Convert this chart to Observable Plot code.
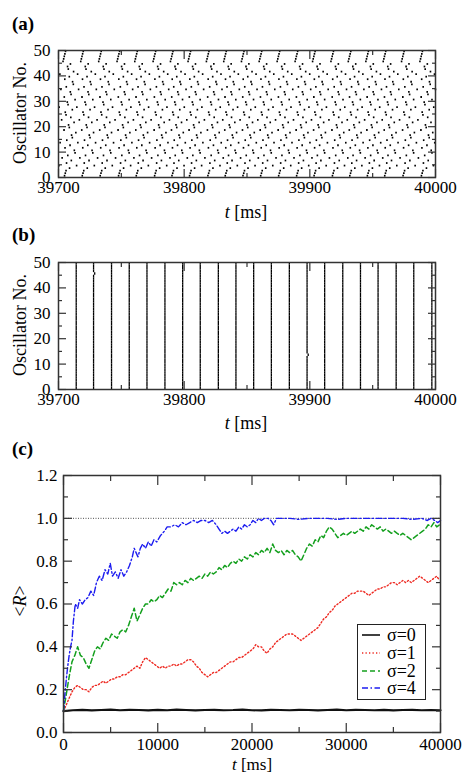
<!DOCTYPE html>
<html><head><meta charset="utf-8">
<script src="https://cdn.jsdelivr.net/npm/d3@7"></script>
<script src="https://cdn.jsdelivr.net/npm/@observablehq/plot@0.6"></script>
<style>
body{margin:0;background:#fff;}
#wrap{position:relative;width:464px;height:775px;font-family:"Liberation Serif","Times New Roman",serif;color:#000;overflow:hidden;background:#fff;}
.panel{position:absolute;left:0;}
.tag{position:absolute;left:12px;font-weight:bold;font-size:19px;line-height:1;}
.xt{position:absolute;font-size:18px;line-height:1;transform:translate(-50%,-50%);white-space:nowrap;}
.yt{position:absolute;font-size:18px;line-height:1;transform:translate(-50%,-50%) rotate(-90deg);white-space:nowrap;}
</style></head><body><div id="wrap"></div>
<script>
// ---------- data ----------
const oscillators = [1,2,3,4,5,6,7,8,9,10,11,12,13,14,15,16,17,18,19,20,21,22,23,24,25,26,27,28,29,30,31,32,33,34,35,36,37,38,39,40,41,42,43,44,45,46,47,48,49,50];
// panel (a): start of each firing cycle [ms] and each oscillator's phase within a cycle [ms] (osc 1..50)
const cycleA = [39689.9,39704.0,39718.1,39732.4,39747.0,39761.1,39775.7,39789.5,39803.5,39818.1,39831.9,39846.0,39860.1,39874.4,39888.7,39902.6,39917.2,39931.0,39945.0,39958.8,39973.4,39988.0];
const phaseA = [0.8,1.4,2.0,4.8,10.4,2.4,6.2,13.0,3.4,9.2,8.6,1.2,5.2,11.4,2.6,7.0,6.4,9.8,0.4,4.6,4.0,8.4,12.6,5.8,2.0,1.4,7.0,10.6,3.6,3.0,9.2,0.6,6.0,5.4,12.0,2.2,7.8,7.2,1.0,4.6,11.2,8.0,3.8,3.2,5.5,-0.4,0.1,0.6,1.1,1.6];
// panel (b): synchronous firing times [ms]
const syncB = [39714.1,39727.9,39742.2,39756.3,39770.4,39784.7,39798.8,39812.8,39827.2,39841.2,39855.3,39869.4,39883.7,39897.8,39911.8,39926.2,39940.3,39954.3,39968.7,39982.7,39997.1];
const lateCycleB = [1, 13];
const lateOscB = [46, 14];
const lateDelayB = [0.9, 0.9];
// panel (c)
const sigmaLabels = ["σ=0","σ=1","σ=2","σ=4"];
const tS0 = [0,1000,2000,3000,4000,5000,6000,7000,8000,9000,10000,11000,12000,13000,14000,15000,16000,17000,18000,19000,20000,21000,22000,23000,24000,25000,26000,27000,28000,29000,30000,31000,32000,33000,34000,35000,36000,37000,38000,39000,40000];
const rS0 = [0.100,0.104,0.106,0.103,0.105,0.107,0.104,0.106,0.105,0.103,0.106,0.104,0.107,0.105,0.103,0.105,0.106,0.104,0.105,0.107,0.104,0.103,0.106,0.105,0.104,0.106,0.105,0.103,0.105,0.107,0.104,0.106,0.105,0.104,0.106,0.103,0.105,0.106,0.104,0.105,0.104];
const tGrid = [0,300,600,900,1200,1500,1800,2100,2400,2700,3000,3300,3600,3900,4200,4500,4800,5100,5400,5700,6000,6300,6600,6900,7200,7500,7800,8100,8400,8700,9000,9300,9600,9900,10200,10500,10800,11100,11400,11700,12000,12300,12600,12900,13200,13500,13800,14100,14400,14700,15000,15300,15600,15900,16200,16500,16800,17100,17400,17700,18000,18300,18600,18900,19200,19500,19800,20100,20400,20700,21000,21300,21600,21900,22200,22500,22800,23100,23400,23700,24000,24300,24600,24900,25200,25500,25800,26100,26400,26700,27000,27300,27600,27900,28200,28500,28800,29100,29400,29700,30000,30300,30600,30900,31200,31500,31800,32100,32400,32700,33000,33300,33600,33900,34200,34500,34800,35100,35400,35700,36000,36300,36600,36900,37200,37500,37800,38100,38400,38700,39000,39300,39600,39900];
const rS1 = [0.10,0.13,0.16,0.19,0.21,0.22,0.21,0.20,0.20,0.19,0.21,0.22,0.22,0.23,0.24,0.23,0.24,0.25,0.25,0.26,0.26,0.27,0.27,0.28,0.29,0.30,0.31,0.30,0.33,0.35,0.34,0.33,0.32,0.31,0.30,0.31,0.30,0.31,0.31,0.32,0.31,0.32,0.32,0.33,0.34,0.34,0.33,0.31,0.30,0.28,0.27,0.26,0.27,0.28,0.28,0.29,0.30,0.31,0.32,0.33,0.33,0.34,0.35,0.35,0.36,0.37,0.38,0.39,0.41,0.40,0.40,0.38,0.37,0.39,0.40,0.42,0.43,0.44,0.45,0.46,0.46,0.46,0.45,0.44,0.43,0.44,0.45,0.46,0.47,0.48,0.49,0.51,0.53,0.54,0.56,0.57,0.59,0.60,0.61,0.62,0.63,0.64,0.65,0.65,0.66,0.66,0.66,0.65,0.64,0.65,0.66,0.67,0.67,0.68,0.68,0.69,0.70,0.70,0.69,0.70,0.71,0.70,0.71,0.70,0.71,0.72,0.73,0.72,0.71,0.70,0.71,0.72,0.73,0.71];
const rS2 = [0.10,0.18,0.26,0.33,0.36,0.40,0.36,0.35,0.32,0.30,0.34,0.38,0.40,0.39,0.42,0.44,0.43,0.46,0.45,0.44,0.47,0.48,0.47,0.50,0.54,0.58,0.52,0.55,0.58,0.60,0.60,0.62,0.61,0.62,0.64,0.63,0.65,0.67,0.66,0.70,0.69,0.70,0.69,0.71,0.70,0.72,0.71,0.72,0.73,0.72,0.74,0.73,0.75,0.74,0.75,0.77,0.76,0.78,0.77,0.79,0.80,0.79,0.81,0.80,0.82,0.81,0.83,0.82,0.84,0.83,0.85,0.84,0.86,0.84,0.88,0.85,0.84,0.85,0.83,0.85,0.84,0.85,0.83,0.82,0.80,0.83,0.86,0.88,0.87,0.90,0.89,0.92,0.91,0.94,0.96,0.95,0.93,0.91,0.92,0.93,0.92,0.93,0.94,0.93,0.94,0.95,0.94,0.96,0.95,0.97,0.96,0.95,0.96,0.94,0.95,0.94,0.93,0.94,0.93,0.92,0.93,0.92,0.91,0.90,0.91,0.92,0.93,0.94,0.95,0.97,0.96,0.98,0.96,0.97];
const tS4 = [0,150,300,450,600,750,900,1050,1250,1500,1700,2000,2300,2600,2900,3200,3500,3800,4100,4400,4700,4960,5200,5500,5800,6100,6400,6700,7000,7300,7500,7700,7900,8150,8400,8700,9000,9300,9600,9900,10300,10700,11000,11400,11800,12200,12600,13000,13400,13800,14200,14600,15000,15400,15800,16200,16500,16800,17100,17400,17700,18000,18300,18600,18900,19200,19500,19800,20100,20400,20700,21000,21300,21700,22000,22300,22600,23000,24000,25000,26000,27000,28000,29000,30000,31000,32000,33000,34000,35000,36000,37000,38000,38600,39000,39400,39700,40000];
const rS4 = [0.10,0.18,0.25,0.31,0.36,0.40,0.43,0.52,0.60,0.58,0.62,0.60,0.62,0.63,0.66,0.64,0.70,0.73,0.71,0.76,0.74,0.79,0.73,0.75,0.72,0.76,0.73,0.75,0.78,0.82,0.86,0.84,0.82,0.86,0.88,0.86,0.89,0.87,0.90,0.89,0.92,0.94,0.96,0.96,0.97,0.96,0.98,0.97,0.98,0.99,0.98,0.99,0.99,0.98,0.99,0.97,0.95,0.93,0.94,0.93,0.94,0.95,0.94,0.96,0.95,0.97,0.96,0.97,0.99,0.98,1.00,0.99,1.00,1.00,0.99,0.97,1.00,1.00,1.00,0.995,1.00,1.00,1.00,0.995,1.00,1.00,1.00,1.00,1.00,1.00,1.00,0.995,1.00,0.99,1.00,0.99,0.98,0.99];
const refLevel = [1.0];
// tick values
const rasterXMajor = [39700,39800,39900,40000], rasterXMinor = [39750,39850,39950];
const rasterYMajor = [0,10,20,30,40,50], rasterYMinor = [5,15,25,35,45];
const cXMajor = [0,10000,20000,30000,40000], cXMinor = [5000,15000,25000,35000];
const cYMajor = [0,0.2,0.4,0.6,0.8,1.0,1.2], cYMinor = [0.1,0.3,0.5,0.7,0.9,1.1];

// ---------- build ----------
const FRAME = "#333";
const styles = {
  "σ=0": {stroke: "#111", dash: null, width: 2.2},
  "σ=1": {stroke: "#ee2a22", dash: "1.3,2.2", width: 1.4},
  "σ=2": {stroke: "#14a01e", dash: "5,3", width: 1.5},
  "σ=4": {stroke: "#1c1cf0", dash: "6,2.5,1.5,2.5", width: 1.4}
};
function boxAxes({xMajor, xMinor, yMajor, yMinor, xFormat, yFormat, major, minor, xPad, yPad}) {
  const tk = {stroke: FRAME, strokeWidth: 1.2, fill: "black", label: null};
  const none = () => "";
  return [
    Plot.axisX(xMajor, {...tk, anchor: "bottom", tickSize: -major, tickPadding: major + xPad, tickFormat: xFormat}),
    Plot.axisX(xMinor, {...tk, anchor: "bottom", tickSize: -minor, tickFormat: none}),
    Plot.axisX(xMajor, {...tk, anchor: "top", tickSize: -major, tickFormat: none}),
    Plot.axisX(xMinor, {...tk, anchor: "top", tickSize: -minor, tickFormat: none}),
    Plot.axisY(yMajor, {...tk, anchor: "left", tickSize: -major, tickPadding: major + yPad, tickFormat: yFormat}),
    Plot.axisY(yMinor, {...tk, anchor: "left", tickSize: -minor, tickFormat: none}),
    Plot.axisY(yMajor, {...tk, anchor: "right", tickSize: -major, tickFormat: none}),
    Plot.axisY(yMinor, {...tk, anchor: "right", tickSize: -minor, tickFormat: none})
  ];
}
const baseStyle = {fontFamily: "'Liberation Serif','Times New Roman',serif", fontSize: "17px", color: "black", background: "white", overflow: "visible"};

const spikesA = cycleA.flatMap(c => oscillators.map((o, i) => ({t: c + phaseA[i], y1: o - 0.85, y2: o - 0.15})))
  .filter(d => d.t >= 39700 && d.t <= 40000);
const spikesB = syncB.flatMap((c, ci) => oscillators.map(o => {
  let t = c;
  lateCycleB.forEach((lc, k) => { if (lc === ci && lateOscB[k] === o) t = c + lateDelayB[k]; });
  return {t, y1: o - 1, y2: o};
}));

function rasterPlot(spikes, w) {
  return Plot.plot({
    width: 464, height: 165, marginTop: 10, marginBottom: 28, marginLeft: 58, marginRight: 29,
    x: {domain: [39700, 40000], axis: null},
    y: {domain: [0, 50], axis: null},
    style: baseStyle,
    marks: [
      Plot.ruleX(spikes, {x: "t", y1: "y1", y2: "y2", stroke: "black", strokeWidth: w}),
      ...boxAxes({xMajor: rasterXMajor, xMinor: rasterXMinor, yMajor: rasterYMajor, yMinor: rasterYMinor,
        xFormat: d3.format("d"), yFormat: d3.format("d"), major: 8, minor: 4, xPad: 3, yPad: 8}),
      Plot.frame({stroke: FRAME, strokeWidth: 1.5})
    ]
  });
}

const series = [
  ...tS0.map((t, i) => ({t, r: rS0[i], s: "σ=0"})),
  ...tGrid.map((t, i) => ({t, r: rS1[i], s: "σ=1"})),
  ...tGrid.map((t, i) => ({t, r: rS2[i], s: "σ=2"})),
  ...tS4.map((t, i) => ({t, r: rS4[i], s: "σ=4"}))
];

const plotC = Plot.plot({
  width: 464, height: 295, marginTop: 10, marginBottom: 28, marginLeft: 63, marginRight: 24,
  x: {domain: [0, 40000], axis: null},
  y: {domain: [0, 1.2], axis: null},
  style: baseStyle,
  marks: [
    Plot.ruleY(refLevel, {stroke: "#222", strokeWidth: 0.8, strokeDasharray: "1,1.5"}),
    ...sigmaLabels.map(s => Plot.line(series.filter(d => d.s === s), {
      x: "t", y: "r", stroke: styles[s].stroke, strokeWidth: styles[s].width,
      strokeDasharray: styles[s].dash, curve: "linear"
    })),
    ...boxAxes({xMajor: cXMajor, xMinor: cXMinor, yMajor: cYMajor, yMinor: cYMinor,
      xFormat: d3.format("d"), yFormat: d3.format(".1f"), major: 9, minor: 5, xPad: 5, yPad: 6}),
    Plot.frame({stroke: FRAME, strokeWidth: 1.5})
  ]
});

// ---------- layout ----------
const wrap = document.getElementById("wrap");
function place(el, top) { el.classList.add("panel"); el.style.top = top + "px"; wrap.appendChild(el); }
place(rasterPlot(spikesA, 1.6), 40);
place(rasterPlot(spikesB, 1.3), 252);
place(plotC, 465);

function addHTML(cls, html, left, top) {
  const d = document.createElement("div"); d.className = cls; d.innerHTML = html;
  d.style.left = left + "px"; d.style.top = top + "px"; wrap.appendChild(d);
  return d;
}
addHTML("tag", "(a)", 12, 14);
addHTML("tag", "(b)", 12, 225);
addHTML("tag", "(c)", 12, 439);
addHTML("xt", "<i>t</i> [ms]", 246, 212);
addHTML("xt", "<i>t</i> [ms]", 246, 423);
addHTML("xt", "<i>t</i> [ms]", 252, 764).style.fontSize = "17px";
addHTML("yt", "Oscillator No.", 20, 113);
addHTML("yt", "Oscillator No.", 20, 325);
addHTML("yt", "&lt;<i>R</i>&gt;", 20, 601);

// legend
const lg = d3.select(wrap).append("svg")
  .attr("width", 70).attr("height", 76)
  .style("position", "absolute").style("left", "357px").style("top", "624px");
lg.append("rect").attr("x", 0.5).attr("y", 0.5).attr("width", 68).attr("height", 75)
  .attr("fill", "white").attr("stroke", "#222").attr("stroke-width", 1);
const rowY = [11, 29, 47, 64];
sigmaLabels.forEach((s, i) => {
  lg.append("line").attr("x1", 5).attr("x2", 23).attr("y1", rowY[i]).attr("y2", rowY[i])
    .attr("stroke", styles[s].stroke).attr("stroke-width", Math.min(styles[s].width, 1.6))
    .attr("stroke-dasharray", styles[s].dash);
  lg.append("text").attr("x", 30).attr("y", rowY[i]).attr("dy", "0.35em")
    .attr("font-family", "'Liberation Serif','Times New Roman',serif").attr("font-size", 18)
    .text(s);
});
</script></body></html>
